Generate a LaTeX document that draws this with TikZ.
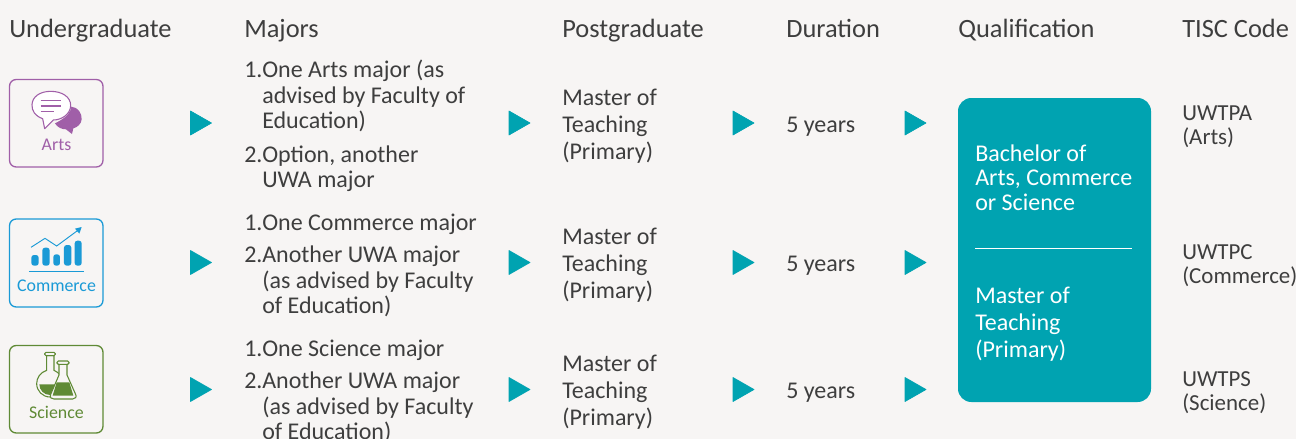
\documentclass[tikz,border=0pt]{standalone}
\usepackage{fontspec}
\setmainfont{Carlito}
\definecolor{bgc}{HTML}{F7F5F4}
\definecolor{tealc}{HTML}{00A3B1}
\definecolor{txt}{HTML}{3E3E3E}
\definecolor{artsc}{HTML}{A05FA8}
\definecolor{commc}{HTML}{1A9AD6}
\definecolor{scic}{HTML}{5F8A35}
\newcommand{\bodyfont}{\fontsize{18}{18.9}\selectfont}
\newcommand{\itm}[1]{\makebox[13.5pt][l]{#1}}
\newcommand{\ind}{\hspace*{13.5pt}}
\tikzset{
  x=0.75pt,y=-0.75pt,
  head/.style={anchor=base west,inner sep=0pt,text=txt,font=\fontsize{19.8}{21}\selectfont},
  body/.style={anchor=west,inner sep=0pt,text=txt,align=left,font=\bodyfont},
  wbody/.style={body,text=white},
  tisc/.style={anchor=west,inner sep=0pt,text=txt,align=left,font=\fontsize{17.2}{18}\selectfont},
  tri/.style={fill=tealc,draw=tealc,line width=.5pt,line join=round},
  iconbox/.style={draw=#1,line width=1pt,rounded corners=5pt,fill=none},
  iconlabel/.style={anchor=center,inner sep=0pt,text=#1,font=\fontsize{13.4}{14}\selectfont},
}
\newcommand{\arrowtri}[2]{\draw[tri] (#1,#2-12) -- (#1+21,#2) -- (#1,#2+12) -- cycle;}
\begin{document}
\begin{tikzpicture}
\useasboundingbox (0,0) rectangle (1296,439);
\fill[bgc] (0,0) rectangle (1296,439);
% headers
\node[head] (h1) at (9,37) {Undergraduate};
\node[head] (h2) at (244,37) {Majors};
\node[head] (h3) at (562,37) {Postgraduate};
\node[head] (h4) at (786,37) {Duration};
\node[head] (h5) at (958,37) {Qualification};
\node[head] (h6) at (1182,37) {TISC Code};
% icon boxes
\draw[iconbox=artsc] (9.5,79.5) rectangle (103,167);
\draw[iconbox=commc] (9.5,219) rectangle (103,307);
\draw[iconbox=scic] (9.5,345.5) rectangle (103,433);
\node[iconlabel=artsc] (la) at (56.5,145) {Arts};
\node[iconlabel=commc] (lc) at (56.5,285.5) {Commerce};
\node[iconlabel=scic] (ls) at (56.5,412) {Science};
% arts icon
\begin{scope}[shift={(0,70)},scale=1/3]
\fill[artsc] (165,160) .. controls (205,140) and (212,125) .. (214,110) .. controls (235,112) and (246,130) .. (245,148) .. controls (244,162) and (232,172) .. (220,175) -- (216,192) -- (198,178) .. controls (185,178) and (172,172) .. (165,160) -- cycle;
\draw[artsc,fill=white,line width=.8pt,line join=round] (128,146) .. controls (105,138) and (95,122) .. (96,104) .. controls (97,80) and (120,64) .. (152,64) .. controls (188,64) and (212,82) .. (212,106) .. controls (212,132) and (185,150) .. (160,150) -- (134,176) -- cycle;
\draw[artsc,line width=1.2pt] (122,92) -- (184,92) (122,108) -- (184,108) (122,124) -- (162,124);
\end{scope}
% commerce icon
\begin{scope}[shift={(0,210)},scale=1/3]
\fill[commc,rounded corners=2pt] (94,135) rectangle (116,167);
\fill[commc,rounded corners=2pt] (127,113) rectangle (149,167);
\fill[commc,rounded corners=2pt] (160,133) rectangle (180,167);
\fill[commc,rounded corners=2pt] (192,105) rectangle (214,167);
\fill[commc,rounded corners=2pt] (224,92) rectangle (245,167);
\draw[commc,line width=.7pt] (87,183) -- (252,183);
\draw[commc,line width=.7pt] (93,112) -- (135,85) -- (170,108) -- (235,60);
\fill[commc] (245,51) -- (225,56) -- (238,71) -- cycle;
\end{scope}
% science icon
\begin{scope}[shift={(0,335)},scale=1/3]
\draw[scic,line width=.8pt,fill=bgc] (140,62) -- (140,106) .. controls (120,112) and (110,130) .. (110,146) .. controls (110,168) and (128,186) .. (150,186) .. controls (172,186) and (190,168) .. (190,146) .. controls (190,130) and (178,112) .. (162,106) -- (162,62) -- cycle;
\draw[scic,line width=.8pt,fill=bgc,rounded corners=1pt] (134,52) rectangle (166,62);
\fill[scic] (118,148) -- (182,148) .. controls (182,165) and (168,180) .. (150,180) .. controls (132,180) and (118,165) .. (118,148) -- cycle;
\draw[scic,line width=.8pt,fill=bgc,line join=round] (177,88) -- (177,120) -- (152,178) .. controls (148,188) and (155,192) .. (162,192) -- (218,192) .. controls (226,192) and (232,186) .. (226,176) -- (201,120) -- (201,88) -- cycle;
\draw[scic,line width=.8pt,fill=bgc,rounded corners=1pt] (171,78) rectangle (207,88);
\fill[scic] (170,142) -- (208,142) -- (220,182) -- (158,182) -- cycle;
\end{scope}
% arrows
\foreach \x in {190.5,509,733,905}{
  \foreach \y in {123,262.5,389.5}{
    \arrowtri{\x}{\y}
  }
}
% majors
\node[body] (m1a) at (244,96) {\itm{1.}One Arts major (as\\\ind advised by Faculty of\\\ind Education)};
\node[body] (m1b) at (244,168.5) {\itm{2.}Option, another\\\ind UWA major};
\node[body] (m2a) at (244,224) {\itm{1.}One Commerce major};
\node[body] (m2b) at (244,281.5) {\itm{2.}Another UWA major\\\ind(as advised by Faculty\\\ind of Education)};
\node[body] (m3a) at (244,350.5) {\itm{1.}One Science major};
\node[body] (m3b) at (244,407.5) {\itm{2.}Another UWA major\\\ind(as advised by Faculty\\\ind of Education)};
% postgraduate
\node[body] (p1) at (562,126) {Master of\\[1.2pt]Teaching\\[1.2pt](Primary)};
\node[body] (p2) at (562,265.5) {Master of\\[1.2pt]Teaching\\[1.2pt](Primary)};
\node[body] (p3) at (562,392) {Master of\\[1.2pt]Teaching\\[1.2pt](Primary)};
% duration
\node[body] (d1) at (786,126.5) {5 years};
\node[body] (d2) at (786,265.5) {5 years};
\node[body] (d3) at (786,392.5) {5 years};
% qualification
\fill[tealc,rounded corners=10pt] (958,98) rectangle (1151,402);
\draw[white,line width=.75pt] (975,248.5) -- (1132,248.5);
\node[wbody] (q1) at (975,177.5) {Bachelor of\\[-0.7pt]Arts, Commerce\\[-0.7pt]or Science};
\node[wbody] (q2) at (975,324) {Master of\\[1.2pt]Teaching\\[1.2pt](Primary)};
% TISC
\node[tisc] (t1) at (1182,126.5) {UWTPA\\(Arts)};
\node[tisc] (t2) at (1182,265.5) {UWTPC\\(Commerce)};
\node[tisc] (t3) at (1182,392.5) {UWTPS\\(Science)};
\end{tikzpicture}
\end{document}
